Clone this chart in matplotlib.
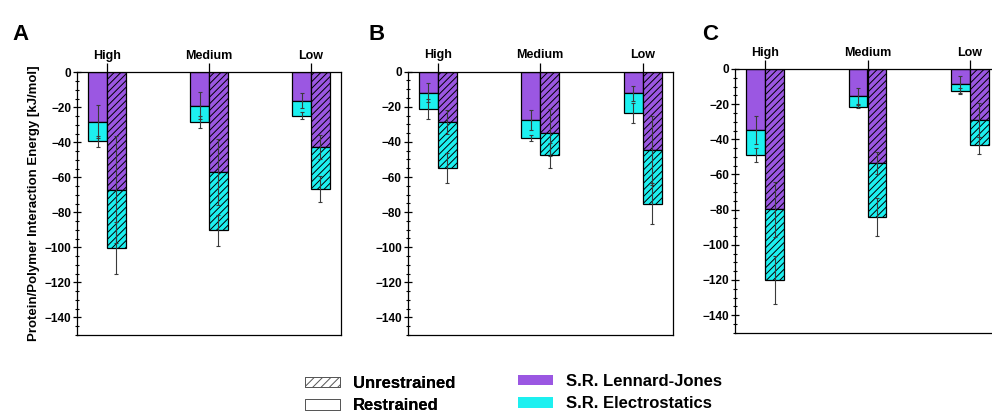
import matplotlib
matplotlib.use("Agg")
matplotlib.rcParams.update({
    "font.family": "sans-serif",
    "font.sans-serif": ["Liberation Sans", "DejaVu Sans"],
    "font.weight": "bold",
    "hatch.linewidth": 0.7,
})

import matplotlib.pyplot as plt
import matplotlib.ticker as mticker
from matplotlib.patches import Patch
import numpy as np

CATEGORIES = ["High", "Medium", "Low"]
PANELS = ["A", "B", "C"]

# S.R. Lennard-Jones component (kJ/mol) and its error,
# S.R. Electrostatics component stacked below, error on the total
A_RES_LJ = [-28.1, -19.0, -16.3]
A_RES_LJ_ERR = [9.5, 7.6, 4.3]
A_RES_EL = [-11.2, -9.6, -8.6]
A_RES_TOT_ERR = [3.2, 3.4, 2.0]
A_UNR_LJ = [-67.0, -56.9, -42.7]
A_UNR_LJ_ERR = [30.7, 19.0, 7.0]
A_UNR_EL = [-33.2, -33.4, -23.9]
A_UNR_TOT_ERR = [15.0, 9.0, 7.3]

B_RES_LJ = [-12.0, -27.6, -12.4]
B_RES_LJ_ERR = [5.3, 5.7, 4.4]
B_RES_EL = [-9.1, -10.1, -11.0]
B_RES_TOT_ERR = [5.6, 1.5, 5.7]
B_UNR_LJ = [-28.6, -34.9, -44.8]
B_UNR_LJ_ERR = [7.0, 13.4, 19.5]
B_UNR_EL = [-26.1, -12.7, -30.4]
B_UNR_TOT_ERR = [8.5, 7.0, 11.8]

C_RES_LJ = [-34.7, -15.4, -8.7]
C_RES_LJ_ERR = [8.1, 4.4, 4.9]
C_RES_EL = [-14.1, -6.0, -3.8]
C_RES_TOT_ERR = [4.0, 1.0, 1.9]
C_UNR_LJ = [-79.9, -53.3, -29.0]
C_UNR_LJ_ERR = [15.6, 6.2, 9.5]
C_UNR_EL = [-40.2, -30.8, -14.5]
C_UNR_TOT_ERR = [13.7, 10.8, 5.0]

PANEL_DATA = {
    "A": (A_RES_LJ, A_RES_LJ_ERR, A_RES_EL, A_RES_TOT_ERR,
          A_UNR_LJ, A_UNR_LJ_ERR, A_UNR_EL, A_UNR_TOT_ERR),
    "B": (B_RES_LJ, B_RES_LJ_ERR, B_RES_EL, B_RES_TOT_ERR,
          B_UNR_LJ, B_UNR_LJ_ERR, B_UNR_EL, B_UNR_TOT_ERR),
    "C": (C_RES_LJ, C_RES_LJ_ERR, C_RES_EL, C_RES_TOT_ERR,
          C_UNR_LJ, C_UNR_LJ_ERR, C_UNR_EL, C_UNR_TOT_ERR),
}

C_LJ = "#9B57E2"
C_EL = "#1DF0F0"
C_ERR = "#3a3a3a"

W, H = 992, 412
# axes boxes in pixels: left, top, right, bottom
BOXES = {
    "A": (77, 72.3, 341, 335),
    "B": (407.7, 71.7, 672.7, 335),
    "C": (735, 69, 1000, 332.7),
}
LETTER_X = {"A": 12, "B": 368, "C": 702}

BAR_W = 0.185


def draw_panel(ax, data):
    res_lj, res_lj_err, res_el, res_tot_err, unr_lj, unr_lj_err, unr_el, unr_tot_err = data
    x = np.arange(len(CATEGORIES))
    ek = dict(ecolor=C_ERR, elinewidth=0.8, capsize=1.6, capthick=0.8, zorder=4)

    for xs, lj, lj_err, el, tot_err, hatch in [
        (x - BAR_W / 2, res_lj, res_lj_err, res_el, res_tot_err, None),
        (x + BAR_W / 2, unr_lj, unr_lj_err, unr_el, unr_tot_err, "/////"),
    ]:
        lj = np.array(lj)
        el = np.array(el)
        ax.bar(xs, lj, BAR_W, color=C_LJ, edgecolor="black", linewidth=0.9,
               hatch=hatch, zorder=2)
        ax.bar(xs, el, BAR_W, bottom=lj, color=C_EL, edgecolor="black",
               linewidth=0.9, hatch=hatch, zorder=2)
        ax.errorbar(xs, lj, yerr=lj_err, fmt="none", **ek)
        ax.errorbar(xs, lj + el, yerr=tot_err, fmt="none", **ek)

    ax.set_xlim(-0.294, 2.294)
    ax.set_ylim(-150, 0)
    ax.xaxis.tick_top()
    ax.set_xticks(x)
    ax.set_xticklabels(CATEGORIES, fontsize=9, fontweight="bold")
    ax.tick_params(axis="x", direction="out", length=6.5, width=0.9, pad=1)

    ax.yaxis.set_major_locator(mticker.MultipleLocator(20))
    ax.yaxis.set_minor_locator(mticker.MultipleLocator(5))
    ax.yaxis.set_major_formatter(
        mticker.FuncFormatter(lambda v, _: f"{int(v)}".replace("-", "\u2212")))
    ax.tick_params(axis="y", which="major", direction="inout", length=5.5,
                   width=0.9, labelsize=8.5, pad=1.5)
    ax.tick_params(axis="y", which="minor", direction="inout", length=3.5,
                   width=0.8)
    for lbl in ax.get_yticklabels():
        lbl.set_fontweight("bold")
    for sp in ax.spines.values():
        sp.set_linewidth(0.9)
        sp.set_color("black")


def main():
    fig = plt.figure(figsize=(W / 100, H / 100), dpi=100)
    fig.patch.set_facecolor("white")

    axes = {}
    for p in PANELS:
        l, t, r, b = BOXES[p]
        ax = fig.add_axes([l / W, 1 - b / H, (r - l) / W, (b - t) / H])
        draw_panel(ax, PANEL_DATA[p])
        axes[p] = ax
        fig.text(LETTER_X[p] / W, 1 - 40 / H, p, fontsize=16,
                 fontweight="bold", ha="left", va="baseline")

    axes["A"].set_ylabel("Protein/Polymer Interaction Energy [kJ/mol]",
                         fontsize=9.5, fontweight="bold", labelpad=3)

    leg_kw = dict(frameon=False, loc="upper left", borderpad=0,
                  borderaxespad=0, handlelength=2.1, handleheight=0.6,
                  handletextpad=0.78, labelspacing=0.45,
                  prop={"size": 12, "weight": "bold"})
    h1 = [
        Patch(facecolor="white", edgecolor="#555555", hatch="////",
              linewidth=0.7, label="Unrestrained"),
        Patch(facecolor="white", edgecolor="#555555", linewidth=0.7,
              label="Restrained"),
    ]
    h2 = [
        Patch(facecolor=C_LJ, edgecolor="none", label="S.R. Lennard-Jones"),
        Patch(facecolor=C_EL, edgecolor="none", label="S.R. Electrostatics"),
    ]
    l1 = fig.legend(handles=h1, bbox_to_anchor=(305 / W, 1 - 376 / H), **leg_kw)
    fig.add_artist(l1)
    fig.legend(handles=h2, bbox_to_anchor=(518 / W, 1 - 374 / H), **leg_kw)

    fig.savefig("out.png", dpi=100, facecolor="white")
    plt.close(fig)


if __name__ == "__main__":
    main()
